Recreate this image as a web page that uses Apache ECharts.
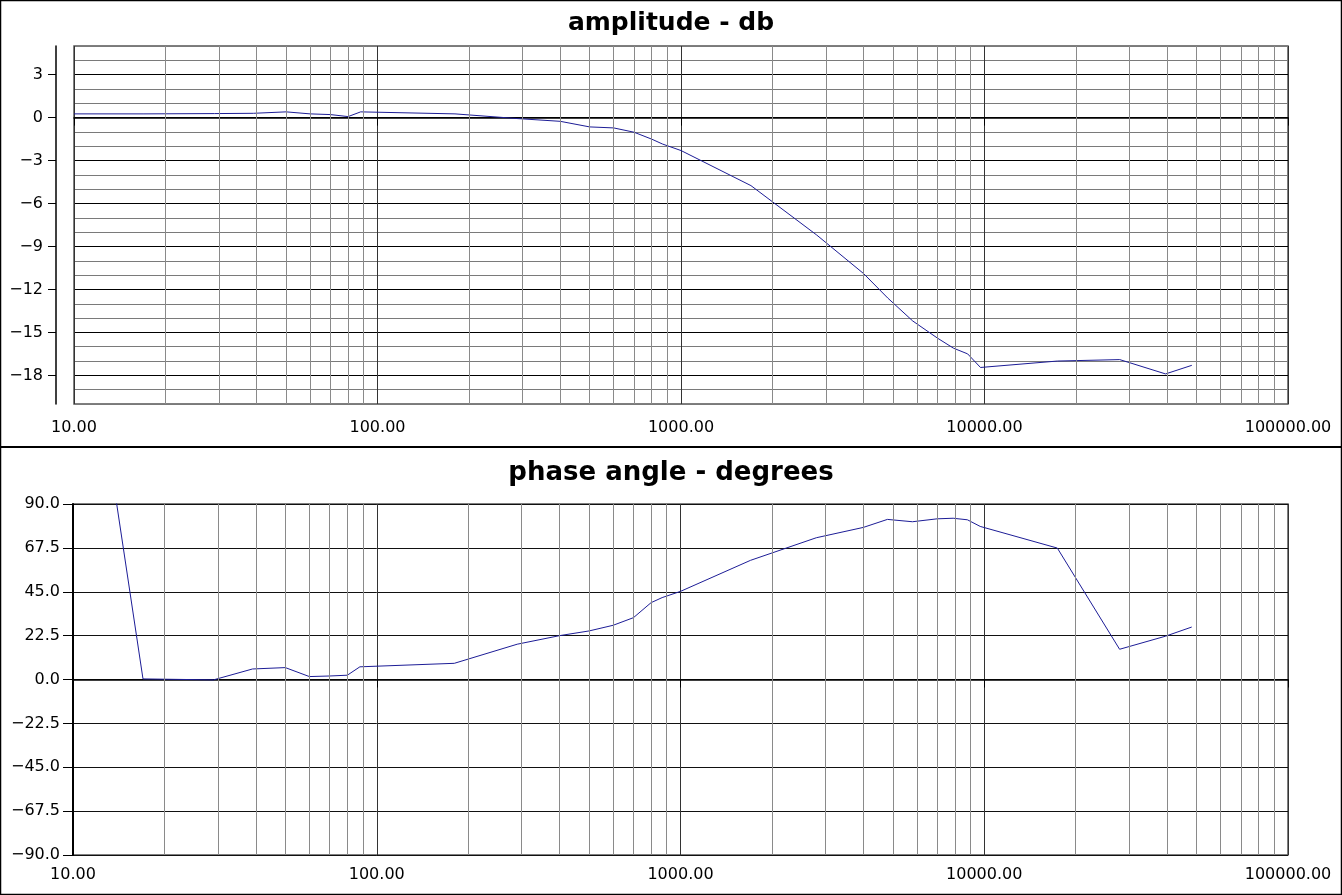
<!DOCTYPE html>
<html>
<head>
<meta charset="utf-8">
<title>amplitude - db / phase angle - degrees</title>
<script src="https://cdn.jsdelivr.net/npm/echarts@6/dist/echarts.min.js"></script>
<style>
  html, body { margin: 0; padding: 0; background: #fff; }
  #chart { width: 1342px; height: 895px; }
</style>
</head>
<body>
<div id="chart"></div>
<script>
// measurement frequencies (Hz), shared by both traces
var freqHz = [10, 17, 29, 39, 50, 60, 70, 80, 88, 180, 290, 400, 500, 600, 700, 800, 870,
  1000, 1700, 2800, 4000, 4800, 5800, 7000, 7900, 8800, 9700, 17400, 27900, 39500, 48200];

var amplitudeDb = [0.26, 0.26, 0.28, 0.3, 0.4, 0.26, 0.21, 0.07, 0.4, 0.26, -0.07, -0.26, -0.65, -0.72, -1.02, -1.5, -1.85,
  -2.3, -4.75, -8.2, -10.9, -12.6, -14.2, -15.4, -16.1, -16.5, -17.45, -17.0, -16.9, -17.9, -17.3];

var phaseDeg = [239, 0.3, -0.2, 5.4, 6.1, 1.5, 1.8, 2.2, 6.5, 8.3, 18.1, 22.5, 24.9, 27.8, 31.7, 39.4, 42,
  45.2, 61.1, 72.7, 78, 82.1, 80.9, 82.4, 82.7, 81.9, 78.5, 67.4, 15.5, 22.2, 26.9];

var dbTicks = [3, 0, -3, -6, -9, -12, -15, -18];
var decades = [10, 100, 1000, 10000];
var minorSteps = [2, 3, 4, 5, 6, 7, 8, 9];

var FONT = 'DejaVu Sans';
var LINE_COLOR = '#1c1c96';

function minus(text) {
  return String(text).replace('-', '\u2212');
}

function pairs(values) {
  return freqHz.map(function (f, i) { return [f, values[i]]; });
}

var minorLines = [];
decades.forEach(function (d) {
  minorSteps.forEach(function (s) { minorLines.push({ xAxis: d * s }); });
});

function minorGridSeries(xi, yi) {
  return {
    type: 'line',
    xAxisIndex: xi,
    yAxisIndex: yi,
    data: [],
    silent: true,
    z: 1,
    markLine: {
      silent: true,
      symbol: ['none', 'none'],
      label: { show: false },
      animation: false,
      lineStyle: { color: '#8a8a8a', width: 1, type: 'solid' },
      data: minorLines
    }
  };
}

function freqAxis(gridIndex, offset) {
  return {
    type: 'log',
    logBase: 10,
    gridIndex: gridIndex,
    min: 10,
    max: 100000,
    offset: offset,
    axisLine: { show: true, lineStyle: { color: '#000', width: 1.5 } },
    axisTick: { show: true, length: 8, lineStyle: { color: '#000' } },
    axisLabel: {
      color: '#000', fontFamily: FONT, fontSize: 16, margin: 12,
      formatter: function (v) { return Number(v).toFixed(2); }
    },
    splitLine: { show: true, lineStyle: { color: '#333', width: 1 } },
    minorTick: { show: false },
    minorSplitLine: { show: false }
  };
}

var chart = echarts.init(document.getElementById('chart'), null, { renderer: 'canvas' });

chart.setOption({
  animation: false,
  backgroundColor: '#fff',
  title: [
    {
      text: 'amplitude - db', left: 'center', top: 6,
      textStyle: { fontFamily: FONT, fontSize: 25, fontWeight: 'bold', color: '#000' }
    },
    {
      text: 'phase angle - degrees', left: 'center', top: 455,
      textStyle: { fontFamily: FONT, fontSize: 26, fontWeight: 'bold', color: '#000' }
    }
  ],
  graphic: [
    {
      type: 'rect', silent: true, z: 100,
      shape: { x: 0.5, y: 0.5, width: 1341, height: 894 },
      style: { fill: null, stroke: '#000', lineWidth: 1.5 }
    },
    {
      type: 'line', silent: true, z: 100,
      shape: { x1: 0, y1: 447, x2: 1342, y2: 447 },
      style: { stroke: '#000', lineWidth: 2 }
    }
  ],
  grid: [
    { left: 74, top: 46, width: 1214, height: 358, show: true, borderColor: '#555', borderWidth: 1.5, backgroundColor: '#fff' },
    { left: 73, top: 504, width: 1215, height: 351, show: true, borderColor: '#555', borderWidth: 1.5, backgroundColor: '#fff' }
  ],
  xAxis: [
    freqAxis(0, 4),
    freqAxis(1, 0)
  ],
  yAxis: [
    {
      type: 'value', gridIndex: 0, min: -20, max: 5, interval: 1, offset: 18,
      axisLine: { show: true, lineStyle: { color: '#000', width: 1.5 } },
      axisTick: { show: true, length: 8, customValues: dbTicks, lineStyle: { color: '#000' } },
      axisLabel: {
        customValues: dbTicks, color: '#000', fontFamily: FONT, fontSize: 16, margin: 13,
        formatter: function (v) { return minus(v); }
      },
      splitLine: { show: false }
    },
    {
      type: 'value', gridIndex: 0, min: -20, max: 5, interval: 1,
      axisLine: { show: false }, axisTick: { show: false }, axisLabel: { show: false },
      splitLine: { show: true, lineStyle: { color: ['#7a7a7a', '#7a7a7a', '#000'], width: 1 } }
    },
    {
      type: 'value', gridIndex: 1, min: -90, max: 90, interval: 22.5,
      axisLine: { show: true, lineStyle: { color: '#000', width: 2 } },
      axisTick: { show: true, length: 10, lineStyle: { color: '#000' } },
      axisLabel: {
        color: '#000', fontFamily: FONT, fontSize: 16, margin: 13,
        formatter: function (v) { return minus(Number(v).toFixed(1)); }
      },
      splitLine: { show: true, lineStyle: { color: '#111', width: 1 } }
    }
  ],
  series: [
    minorGridSeries(0, 1),
    minorGridSeries(1, 2),
    {
      name: 'amplitude', type: 'line', xAxisIndex: 0, yAxisIndex: 0,
      data: pairs(amplitudeDb), showSymbol: false, clip: true, z: 3,
      lineStyle: { color: LINE_COLOR, width: 1 }
    },
    {
      name: 'phase', type: 'line', xAxisIndex: 1, yAxisIndex: 2,
      data: pairs(phaseDeg), showSymbol: false, clip: true, z: 3,
      lineStyle: { color: LINE_COLOR, width: 1 }
    }
  ]
});
</script>
</body>
</html>
